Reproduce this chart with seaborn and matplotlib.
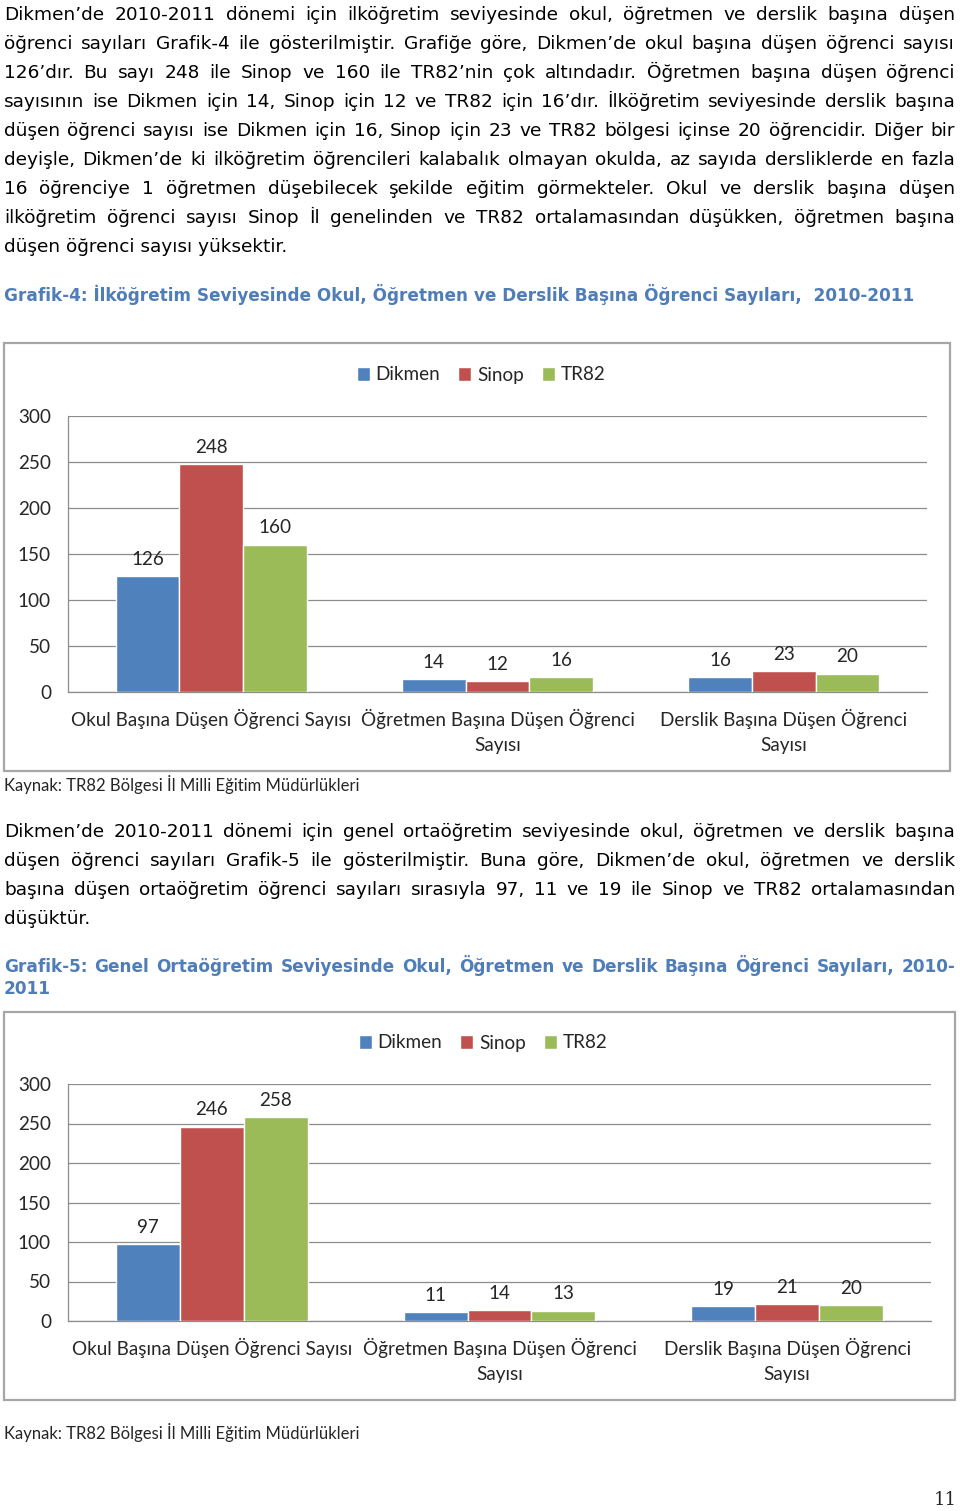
import pandas as pd
import seaborn as sns
import matplotlib.pyplot as plt
from matplotlib.patches import Rectangle

# --- data ---
kategoriler = ["Okul Başına Düşen Öğrenci Sayısı",
               "Öğretmen Başına Düşen Öğrenci\nSayısı",
               "Derslik Başına Düşen Öğrenci\nSayısı"]
bolgeler = ["Dikmen", "Sinop", "TR82"]
renkler = ["#4F81BD", "#C0504D", "#9BBB59"]

ilk_dikmen = [126, 14, 16]
ilk_sinop = [248, 12, 23]
ilk_tr82 = [160, 16, 20]

orta_dikmen = [97, 11, 19]
orta_sinop = [246, 14, 21]
orta_tr82 = [258, 13, 20]

y_ticks = [0, 50, 100, 150, 200, 250, 300]

paragraf1 = [
    "Dikmen’de 2010-2011 dönemi için ilköğretim seviyesinde okul, öğretmen ve derslik başına düşen",
    "öğrenci sayıları Grafik-4 ile gösterilmiştir. Grafiğe göre, Dikmen’de okul başına düşen öğrenci sayısı",
    "126’dır. Bu sayı 248 ile Sinop ve 160 ile TR82’nin çok altındadır. Öğretmen başına düşen öğrenci",
    "sayısının ise Dikmen için 14, Sinop için 12 ve TR82 için 16’dır. İlköğretim seviyesinde derslik başına",
    "düşen öğrenci sayısı ise Dikmen için 16, Sinop için 23 ve TR82 bölgesi içinse 20 öğrencidir. Diğer bir",
    "deyişle, Dikmen’de ki ilköğretim öğrencileri kalabalık olmayan okulda, az sayıda dersliklerde en fazla",
    "16 öğrenciye 1 öğretmen düşebilecek şekilde eğitim görmekteler. Okul ve derslik başına düşen",
    "ilköğretim öğrenci sayısı Sinop İl genelinden ve TR82 ortalamasından düşükken, öğretmen başına",
    "düşen öğrenci sayısı yüksektir.",
]
baslik1 = ["Grafik-4: İlköğretim Seviyesinde Okul, Öğretmen ve Derslik Başına Öğrenci Sayıları,  2010-2011"]
paragraf2 = [
    "Dikmen’de 2010-2011 dönemi için genel ortaöğretim seviyesinde okul, öğretmen ve derslik başına",
    "düşen öğrenci sayıları Grafik-5 ile gösterilmiştir. Buna göre, Dikmen’de okul, öğretmen ve derslik",
    "başına düşen ortaöğretim öğrenci sayıları sırasıyla 97, 11 ve 19 ile Sinop ve TR82 ortalamasından",
    "düşüktür.",
]
baslik2 = ["Grafik-5: Genel Ortaöğretim Seviyesinde Okul, Öğretmen ve Derslik Başına Öğrenci Sayıları, 2010-",
           "2011"]
kaynak = "Kaynak: TR82 Bölgesi İl Milli Eğitim Müdürlükleri"

W, H = 960, 1511
GRI = "#8c8c8c"
YAZI = "DejaVu Sans"
GRAFIK = "Lato"
GS = 13.6  # chart font size


def fx(px):
    return px / W


def fy(py):
    return 1 - py / H


def paragraf(fig, lines, baseline, step, size, weight="normal", color="black",
             last_justified=False):
    # justified text: each word placed so the line fills 4..955 px
    renderer = fig.canvas.get_renderer()
    for i, line in enumerate(lines):
        y = fy(baseline + i * step)
        son = i == len(lines) - 1 and not last_justified
        kw = dict(fontsize=size, fontweight=weight, color=color,
                  family=YAZI, va="baseline", ha="left")
        if son:
            fig.text(fx(4), y, line, **kw)
            continue
        words = line.split(" ")
        texts = [fig.text(0, y, w, **kw) for w in words]
        widths = [t.get_window_extent(renderer).width for t in texts]
        gap = (951 - sum(widths)) / (len(words) - 1)
        x = 4
        for t, w in zip(texts, widths):
            t.set_x(fx(x))
            x += w + gap


def grafik(fig, d, s, t, ax_px, box_px, leg_px, kaynak_y):
    df = pd.DataFrame({
        "kategori": kategoriler * 3,
        "bolge": [b for b in bolgeler for _ in kategoriler],
        "deger": d + s + t,
    })
    x0, y0, x1, y1 = box_px
    fig.add_artist(Rectangle((fx(x0), fy(y1)), (x1 - x0) / W, (y1 - y0) / H,
                             transform=fig.transFigure, fill=False,
                             ec="#a6a6a6", lw=1.6))
    left, top, right, bottom = ax_px
    ax = fig.add_axes([fx(left), fy(bottom), (right - left) / W, (bottom - top) / H])
    sns.barplot(data=df, x="kategori", y="deger", hue="bolge", order=kategoriler,
                hue_order=bolgeler, palette=renkler, width=0.667, saturation=1,
                errorbar=None, ax=ax, zorder=3)
    for c in ax.containers:
        ax.bar_label(c, padding=6, fontsize=GS, family=GRAFIK)
    ax.set_ylim(0, 300)
    ax.set_xlim(-0.5, 2.5)
    ax.set_yticks(y_ticks)
    ax.grid(axis="y", color=GRI, lw=0.9, zorder=0)
    ax.set_axisbelow(True)
    for sp in ["top", "right"]:
        ax.spines[sp].set_visible(False)
    for sp in ["left", "bottom"]:
        ax.spines[sp].set_color(GRI)
        ax.spines[sp].set_linewidth(0.9)
    ax.tick_params(axis="y", length=6, color=GRI, width=0.9, pad=6.3,
                   labelsize=GS)
    ax.tick_params(axis="x", which="major", length=0, pad=12, labelsize=GS)
    ax.set_xticks([-0.5, 0.5, 1.5, 2.5], minor=True)
    ax.tick_params(axis="x", which="minor", length=6, color=GRI, width=0.9)
    for lab in ax.get_xticklabels() + ax.get_yticklabels():
        lab.set_family(GRAFIK)
    for lab in ax.get_xticklabels():
        lab.set_linespacing(1.6)
    ax.set_xlabel("")
    ax.set_ylabel("")
    handles, labels = ax.get_legend_handles_labels()
    ax.get_legend().remove()
    fig.legend(handles, labels, loc="center", ncol=3, frameon=False,
               bbox_to_anchor=(fx(leg_px[0]), fy(leg_px[1])),
               prop={"family": GRAFIK, "size": GS},
               handlelength=0.7, handleheight=0.7, handletextpad=0.3,
               columnspacing=0.95)
    fig.text(fx(4), fy(kaynak_y), kaynak, family=GRAFIK, fontsize=12,
             va="center", ha="left")
    return ax


sns.set_style("white")
plt.rcParams["font.family"] = [YAZI]

fig = plt.figure(figsize=(W / 100, H / 100), dpi=100)
fig.patch.set_facecolor("white")

paragraf(fig, paragraf1, 20, 29, 13.3)
paragraf(fig, baslik1, 301, 22, 12.2, weight="bold", color="#4F7DB8")
grafik(fig, ilk_dikmen, ilk_sinop, ilk_tr82,
       (68, 416, 927, 692), (4, 343, 950, 771), (481, 375), 785)

paragraf(fig, paragraf2, 837, 29, 13.3)
paragraf(fig, baslik2, 972, 22, 12.2, weight="bold", color="#4F7DB8")
grafik(fig, orta_dikmen, orta_sinop, orta_tr82,
       (68, 1084, 931, 1321), (4, 1012, 955, 1400), (483, 1043), 1432)

fig.text(fx(945), fy(1500), "11", family="DejaVu Serif", fontsize=13,
         ha="center", va="center")

fig.savefig("out.png", dpi=100)
